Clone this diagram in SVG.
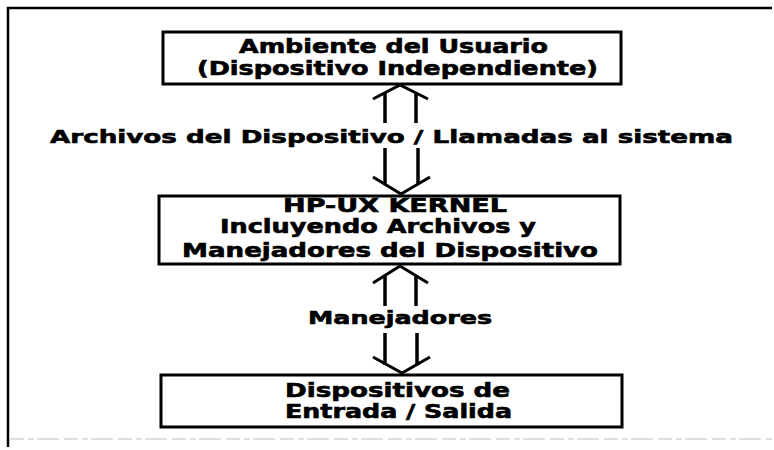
<svg xmlns="http://www.w3.org/2000/svg" width="774" height="450" viewBox="0 0 774 450">
<style>
  .bg { fill: #ffffff; }
  .frame { stroke: #000; stroke-width: 2.5; fill: none; }
  .frame-bottom { stroke: #d6d6d6; stroke-width: 1.5; stroke-dasharray: 14 4 6 3 22 5; fill: none; }
  .box { fill: #ffffff; stroke: #000; stroke-width: 3; }
  .t { font-family: "DejaVu Sans", "Liberation Sans", sans-serif; font-weight: bold; font-size: 19px; fill: #000; stroke: #000; stroke-width: 0.6; }
  .lbl { font-size: 18px; }
  .shaft { stroke: #000; stroke-width: 3.5; fill: none; }
  .head { stroke: #000; stroke-width: 3; fill: none; stroke-linejoin: miter; }
</style>
<rect class="bg" x="0" y="0" width="774" height="450"/>
<g id="frame">
  <path class="frame" d="M8,447 L8,8 L772,8"/>
  <path class="frame-bottom" d="M10,439 L772,439"/>
</g>
<g id="node-usuario">
  <rect class="box" x="163" y="32" width="458" height="52"/>
  <text class="t" x="239" y="53" textLength="309" lengthAdjust="spacingAndGlyphs">Ambiente del Usuario</text>
  <text class="t" x="197" y="75" textLength="401" lengthAdjust="spacingAndGlyphs">(Dispositivo Independiente)</text>
</g>
<g id="node-kernel">
  <rect class="box" x="159" y="196" width="461" height="68"/>
  <text class="t" x="283" y="212" textLength="224" lengthAdjust="spacingAndGlyphs">HP-UX KERNEL</text>
  <text class="t" x="220" y="233" textLength="316" lengthAdjust="spacingAndGlyphs">Incluyendo Archivos y</text>
  <text class="t" x="182" y="257" textLength="416" lengthAdjust="spacingAndGlyphs">Manejadores del Dispositivo</text>
</g>
<g id="node-dispositivos">
  <rect class="box" x="161" y="375" width="461" height="52"/>
  <text class="t" x="285" y="397" textLength="225" lengthAdjust="spacingAndGlyphs">Dispositivos de</text>
  <text class="t" x="285" y="418" textLength="227" lengthAdjust="spacingAndGlyphs">Entrada / Salida</text>
</g>
<g id="connectors">
  <g id="conn-usuario-kernel">
    <path class="head" d="M373,99 L400,85 L428,99"/>
    <line class="shaft" x1="385" y1="92" x2="385" y2="123"/>
    <line class="shaft" x1="416" y1="92" x2="416" y2="123"/>
    <line class="shaft" x1="385" y1="148" x2="385" y2="184"/>
    <line class="shaft" x1="418" y1="148" x2="418" y2="184"/>
    <path class="head" d="M373,177 L401,194 L430,177"/>
    <text class="t lbl" x="50" y="143" textLength="683" lengthAdjust="spacingAndGlyphs">Archivos del Dispositivo / Llamadas al sistema</text>
  </g>
  <g id="conn-kernel-dispositivos">
    <path class="head" d="M373,283 L400,266 L428,283"/>
    <line class="shaft" x1="385" y1="275" x2="385" y2="306"/>
    <line class="shaft" x1="416" y1="275" x2="416" y2="306"/>
    <line class="shaft" x1="385" y1="333" x2="385" y2="365"/>
    <line class="shaft" x1="417" y1="333" x2="417" y2="365"/>
    <path class="head" d="M373,357 L402,373 L430,357"/>
    <text class="t lbl" x="308" y="324" textLength="184" lengthAdjust="spacingAndGlyphs">Manejadores</text>
  </g>
</g>
</svg>
